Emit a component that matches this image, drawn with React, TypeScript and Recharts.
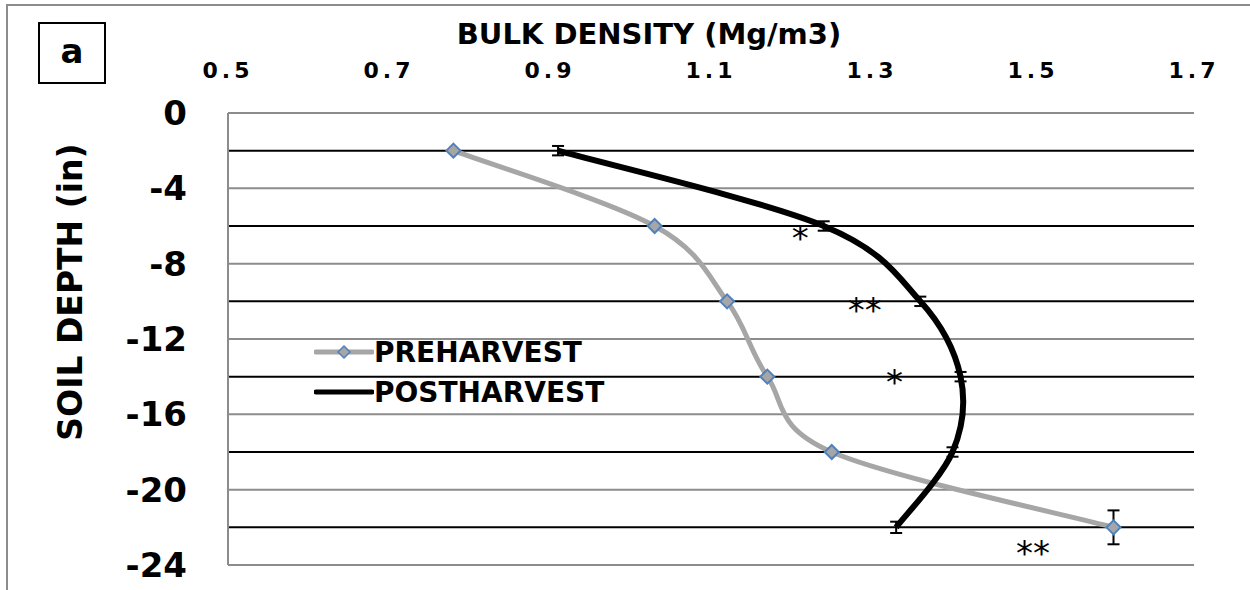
import {
  ComposedChart, Line, Scatter, XAxis, YAxis, ReferenceLine, ErrorBar,
} from 'recharts'

const FONT = "'Comic Sans MS', 'DejaVu Sans', sans-serif"

// depth (in) and bulk density (Mg/m3)
const depths = [-2, -6, -10, -14, -18, -22]
const preharvest = [0.78, 1.03, 1.12, 1.17, 1.25, 1.6]
const postharvest = [0.91, 1.24, 1.36, 1.41, 1.4, 1.33]
const preErr = [0, 0, 0, 0, 0, 0.9]
const postErr = [0.25, 0.25, 0.25, 0.25, 0.25, 0.3]

const xTicks = [0.5, 0.7, 0.9, 1.1, 1.3, 1.5, 1.7]
const yTicks = [0, -4, -8, -12, -16, -20, -24]
const grayGrid = [0, -4, -8, -12, -16, -20, -24]
const blackGrid = [-2, -6, -10, -14, -18, -22]

// significance marks
const starX = [1.211, 1.291, 1.328, 1.5]
const starDepth = [-6.3, -10.14, -13.95, -23.03]
const starText = ['*', '**', '*', '**']

const chartData = depths.map((d, i) => ({
  depth: d,
  pre: preharvest[i],
  post: postharvest[i],
  preErr: preErr[i],
  postErr: postErr[i],
}))

const starData = starX.map((x, i) => ({ x, depth: starDepth[i], text: starText[i] }))

// Excel-style smoothed line (Catmull-Rom through the points)
const excelSmooth = (context: any) => {
  let pts: number[][] = []
  return {
    areaStart() {},
    areaEnd() {},
    lineStart() { pts = [] },
    lineEnd() {
      if (!pts.length) return
      context.moveTo(pts[0][0], pts[0][1])
      for (let i = 0; i < pts.length - 1; i++) {
        const p0 = pts[i - 1] || pts[i]
        const p1 = pts[i]
        const p2 = pts[i + 1]
        const p3 = pts[i + 2] || p2
        context.bezierCurveTo(
          p1[0] + (p2[0] - p0[0]) / 6, p1[1] + (p2[1] - p0[1]) / 6,
          p2[0] - (p3[0] - p1[0]) / 6, p2[1] - (p3[1] - p1[1]) / 6,
          p2[0], p2[1],
        )
      }
    },
    point(x: number, y: number) { pts.push([x, y]) },
  }
}

const Diamond = (props: any) => {
  const { cx, cy } = props
  if (cx == null || cy == null) return null
  const r = 7
  return (
    <polygon
      points={`${cx},${cy - r} ${cx + r},${cy} ${cx},${cy + r} ${cx - r},${cy}`}
      fill="#a6a6a6" stroke="#4f81bd" strokeWidth={2}
    />
  )
}

const Nothing = () => <g />

const Star = (props: any) => {
  const { cx, cy, payload } = props
  return (
    <text x={cx} y={cy + 18} textAnchor="middle" fontSize={34} fontFamily="'DejaVu Sans', sans-serif" fill="#000">
      {payload.text}
    </text>
  )
}

export default function App() {
  return (
    <div style={{ position: 'absolute', left: 0, top: 0, width: 1250, height: 590, background: '#fff', fontFamily: FONT }}>
      {/* outer frame */}
      <div style={{ position: 'absolute', left: 6, top: 4, width: 1244, height: 586, borderTop: '2px solid #8c8c8c', borderLeft: '2px solid #8c8c8c' }} />

      {/* panel letter */}
      <div style={{
        position: 'absolute', left: 38, top: 22, width: 68, height: 62, border: '2px solid #000',
        display: 'flex', alignItems: 'center', justifyContent: 'center',
        fontSize: 34, fontWeight: 'bold', paddingBottom: 4, boxSizing: 'border-box',
      }}>a</div>

      <ComposedChart
        width={1250}
        height={590}
        layout="vertical"
        data={chartData}
        margin={{ top: 53, right: 56, bottom: 25, left: 108 }}
      >
        <XAxis
          type="number"
          orientation="top"
          domain={[0.5, 1.7]}
          ticks={xTicks}
          tickFormatter={(v: number) => v.toFixed(1)}
          height={60}
          axisLine={false}
          tickLine={false}
          tickSize={0}
          tickMargin={35}
          tick={{ fill: '#000', fontSize: 22, fontWeight: 'bold', fontFamily: FONT, letterSpacing: 4 }}
          allowDataOverflow
        />
        <YAxis
          type="number"
          dataKey="depth"
          domain={[-24, 0]}
          ticks={yTicks}
          reversed
          width={120}
          axisLine={false}
          tickLine={false}
          tickSize={0}
          tickMargin={41}
          tick={{ fill: '#000', fontSize: 34, fontWeight: 'bold', fontFamily: FONT }}
          allowDataOverflow
        />

        {grayGrid.map(d => (
          <ReferenceLine key={`g${d}`} y={d} stroke="#8c8c8c" strokeWidth={2} />
        ))}
        {blackGrid.map(d => (
          <ReferenceLine key={`b${d}`} y={d} stroke="#000" strokeWidth={2} />
        ))}
        <ReferenceLine x={0.5} stroke="#8c8c8c" strokeWidth={2} />

        <Line
          dataKey="pre"
          name="PREHARVEST"
          type={excelSmooth as any}
          stroke="#a6a6a6"
          strokeWidth={5}
          dot={false}
          isAnimationActive={false}
        />
        <Line
          dataKey="post"
          name="POSTHARVEST"
          type={excelSmooth as any}
          stroke="#000"
          strokeWidth={6}
          dot={false}
          isAnimationActive={false}
        />

        <Scatter dataKey="pre" shape={Diamond} isAnimationActive={false}>
          <ErrorBar dataKey="preErr" direction="y" width={6} stroke="#000" strokeWidth={2} isAnimationActive={false} />
        </Scatter>
        <Scatter dataKey="post" shape={Nothing} isAnimationActive={false}>
          <ErrorBar dataKey="postErr" direction="y" width={6} stroke="#000" strokeWidth={2} isAnimationActive={false} />
        </Scatter>

        <Scatter data={starData} dataKey="x" shape={Star} isAnimationActive={false} />
      </ComposedChart>

      {/* axis titles */}
      <div style={{ position: 'absolute', left: 649, top: 34, transform: 'translate(-50%, -50%)', fontSize: 29, fontWeight: 'bold', whiteSpace: 'nowrap' }}>
        BULK DENSITY (Mg/m3)
      </div>
      <div style={{ position: 'absolute', left: 70, top: 292, transform: 'translate(-50%, -50%) rotate(-90deg)', fontSize: 33, fontWeight: 'bold', whiteSpace: 'nowrap' }}>
        SOIL DEPTH (in)
      </div>

      {/* legend */}
      <div style={{ position: 'absolute', left: 314, top: 332, fontSize: 28, fontWeight: 'bold' }}>
        <div style={{ display: 'flex', alignItems: 'center', height: 40 }}>
          <svg width={60} height={20}>
            <line x1={2} y1={10} x2={58} y2={10} stroke="#a6a6a6" strokeWidth={5} strokeLinecap="round" />
            <polygon points="30,4 36,10 30,16 24,10" fill="#a6a6a6" stroke="#4f81bd" strokeWidth={1.5} />
          </svg>
          <span>PREHARVEST</span>
        </div>
        <div style={{ display: 'flex', alignItems: 'center', height: 40 }}>
          <svg width={60} height={20}>
            <line x1={2} y1={10} x2={58} y2={10} stroke="#000" strokeWidth={5} strokeLinecap="round" />
          </svg>
          <span>POSTHARVEST</span>
        </div>
      </div>
    </div>
  )
}
